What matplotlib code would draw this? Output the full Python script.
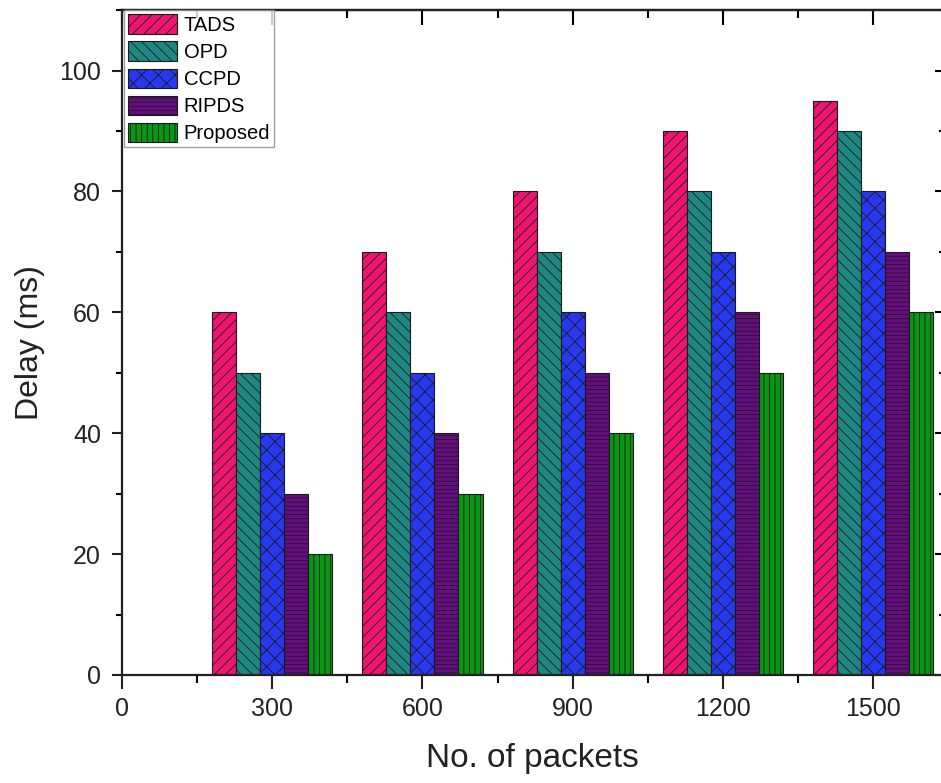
import numpy as np
import matplotlib
matplotlib.use("Agg")
from matplotlib import pyplot as plt
from matplotlib.ticker import MultipleLocator

plt.rcParams["font.family"] = ["Liberation Sans", "DejaVu Sans"]
plt.rcParams["hatch.linewidth"] = 0.6

packets = [300, 600, 900, 1200, 1500]
series = ["TADS", "OPD", "CCPD", "RIPDS", "Proposed"]
tads = [60, 70, 80, 90, 95]
opd = [50, 60, 70, 80, 90]
ccpd = [40, 50, 60, 70, 80]
ripds = [30, 40, 50, 60, 70]
proposed = [20, 30, 40, 50, 60]

values = [tads, opd, ccpd, ripds, proposed]
colors = ["#EE1470", "#1E8782", "#2838F0", "#680C84", "#0A9614"]
hatches = ["///", "\\\\\\", "xx", "----", "|||"]

fig = plt.figure(figsize=(9.41, 7.83), dpi=100)
ax = fig.add_axes([0.1295, 0.138, 0.873, 0.849])

bar_w = 48
x = np.array(packets)
for i, (name, vals) in enumerate(zip(series, values)):
    offset = (i - 2) * bar_w
    ax.bar(x + offset, vals, width=bar_w, color=colors[i], edgecolor="#1a1a1a",
           hatch=hatches[i], linewidth=0.8, label=name)

ax.set_xlim(0, 1640)
ax.set_ylim(0, 110)
ax.xaxis.set_major_locator(MultipleLocator(300))
ax.xaxis.set_minor_locator(MultipleLocator(150))
ax.yaxis.set_major_locator(MultipleLocator(20))
ax.yaxis.set_minor_locator(MultipleLocator(10))

ax.tick_params(axis="x", which="major", direction="out", length=10, width=1.5,
               labelsize=18, pad=6, colors="#222222")
ax.tick_params(axis="x", which="minor", direction="out", length=6, width=1.5)
ax.tick_params(axis="y", which="major", direction="out", length=7, width=1.5,
               labelsize=18, pad=8, colors="#222222")
ax.tick_params(axis="y", which="minor", direction="out", length=4, width=1.5)

# top and right axes with inward ticks
top = ax.secondary_xaxis("top")
top.xaxis.set_major_locator(MultipleLocator(300))
top.xaxis.set_minor_locator(MultipleLocator(150))
top.tick_params(which="major", direction="in", length=11, width=1.5, labeltop=False)
top.tick_params(which="minor", direction="in", length=6, width=1.5)
right = ax.secondary_yaxis("right")
right.yaxis.set_major_locator(MultipleLocator(20))
right.yaxis.set_minor_locator(MultipleLocator(10))
right.tick_params(which="major", direction="in", length=6, width=1.5, labelright=False)
right.tick_params(which="minor", direction="in", length=3, width=1.5)

for s in ax.spines.values():
    s.set_linewidth(1.6)
    s.set_color("#222222")
top.spines["top"].set_linewidth(1.6)
right.spines["right"].set_linewidth(1.6)

ax.set_xlabel("No. of packets", fontsize=24, labelpad=16, color="#222222")
ax.set_ylabel("Delay (ms)", fontsize=23, labelpad=10, color="#222222")

leg = ax.legend(loc="upper left", bbox_to_anchor=(0.003, 1.0), borderaxespad=0,
                fontsize=14.5, frameon=True, fancybox=False, edgecolor="#888888",
                handlelength=2.4, handleheight=1.1, labelspacing=0.33,
                handletextpad=0.35, borderpad=0.2)
leg.get_frame().set_linewidth(1.0)

fig.savefig("out.png", dpi=100)
